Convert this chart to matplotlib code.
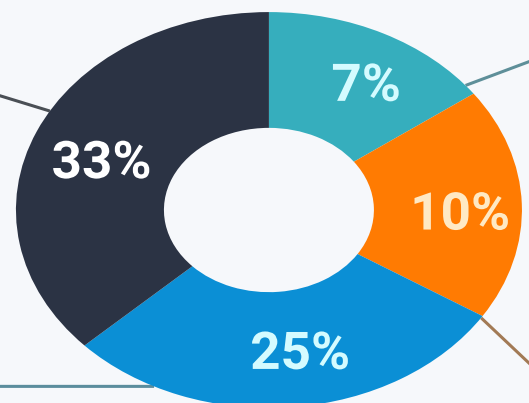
import numpy as np
import matplotlib.pyplot as plt
from matplotlib.font_manager import FontProperties
from matplotlib.patches import PathPatch
from matplotlib.textpath import TextPath
from matplotlib.transforms import Affine2D

# wedge shares (percent of the full ring), clockwise from 12 o'clock
shares = [15, 19, 29, 37]
labels = ["7%", "10%", "25%", "33%"]
colors = ["#36aebd", "#ff7b02", "#0b8fd5", "#2b3344"]
label_colors = ["#d4fbff", "#ffe9c4", "#d4fbff", "#ffffff"]

# leader lines: angle on the rim (deg) and far end (data coords)
leader_angles = [39, -33, 243, 150]
leader_ends = [(1.05, 0.76), (1.05, -0.80), (-1.07, -0.891), (-1.07, 0.58)]
leader_colors = ["#5e8f99", "#a27a55", "#5b8d9d", "#4a4f55"]

W, H = 529, 403
XLIM = (-1.063, 1.028)
YLIM = (-0.975, 1.061)
PX_X = W / (XLIM[1] - XLIM[0])  # pixels per data unit
PX_Y = H / (YLIM[1] - YLIM[0])

fig = plt.figure(figsize=(W / 100, H / 100), dpi=100)
fig.patch.set_facecolor("#f6f8fb")
ax = fig.add_axes([0, 0, 1, 1])
ax.set_facecolor("#f6f8fb")

wedges, _ = ax.pie(
    shares,
    colors=colors,
    startangle=90,
    counterclock=False,
    radius=1.0,
    wedgeprops=dict(width=0.585, edgecolor="none", zorder=3),
)

# bold label text, drawn as paths so its size is exact in pixels
fp = FontProperties(family="Roboto", weight="bold")
nudge = [-3.7, -2.2, 4.4, 2.4]  # small angular shifts of the labels
radii = [0.75, 0.76, 0.72, 0.71]
cap_px = 38
squeeze = 1.02
for w, lab, lc, dn, r in zip(wedges, labels, label_colors, nudge, radii):
    mid = np.deg2rad((w.theta1 + w.theta2) / 2 + dn)
    cx, cy = r * np.cos(mid), r * np.sin(mid)
    tp = TextPath((0, 0), lab, size=100, prop=fp)
    bb = tp.get_extents()
    k = cap_px / bb.height
    tr = (Affine2D()
          .translate(-(bb.x0 + bb.width / 2), -(bb.y0 + bb.height / 2))
          .scale(k * squeeze / PX_X, k / PX_Y)
          .translate(cx, cy))
    ax.add_patch(PathPatch(tr.transform_path(tp), facecolor=lc, edgecolor="none",
                           zorder=5))

for a, (xe, ye), c in zip(leader_angles, leader_ends, leader_colors):
    t = np.deg2rad(a)
    ax.plot([np.cos(t), xe], [np.sin(t), ye], color=c, lw=2.2, zorder=2,
            solid_capstyle="butt")

ax.set_aspect("auto")
ax.set_xlim(*XLIM)
ax.set_ylim(*YLIM)
ax.axis("off")

fig.savefig("out.png", dpi=100, facecolor=fig.get_facecolor())
